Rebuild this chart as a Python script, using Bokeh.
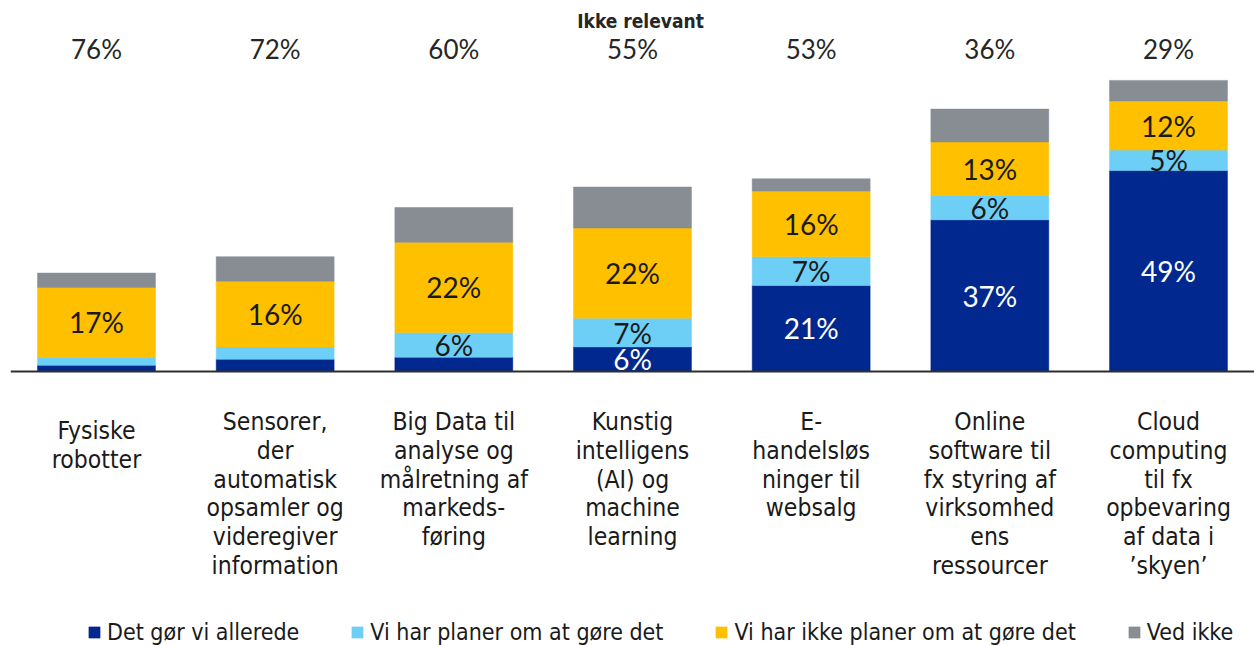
from bokeh.plotting import figure
from bokeh.models import ColumnDataSource, FactorRange, Span
from bokeh.core.properties import value
from bokeh.embed import file_html
from bokeh.resources import INLINE

# ---------------- data ----------------
categories = [
    "Fysiske\nrobotter",
    "Sensorer,\nder\nautomatisk\nopsamler og\nvideregiver\ninformation",
    "Big Data til\nanalyse og\nmålretning af\nmarkeds-\nføring",
    "Kunstig\nintelligens\n(AI) og\nmachine\nlearning",
    "E-\nhandelsløs\nninger til\nwebsalg",
    "Online\nsoftware til\nfx styring af\nvirksomhed\nens\nressourcer",
    "Cloud\ncomputing\ntil fx\nopbevaring\naf data i\n’skyen’",
]
series_names = [
    "Det gør vi allerede",
    "Vi har planer om at gøre det",
    "Vi har ikke planer om at gøre det",
    "Ved ikke",
]
already = [1.5, 3, 3.5, 6, 21, 37, 49]
planning = [2, 3, 6, 7, 7, 6, 5]
no_plans = [17, 16, 22, 22, 16, 13, 12]
dont_know = [3.5, 6, 8.5, 10, 3, 8, 5]
not_relevant = [76, 72, 60, 55, 53, 36, 29]
not_relevant_title = "Ikke relevant"

# ---------------- style ----------------
colors = ["#00288F", "#6DCFF6", "#FFC000", "#878D93"]
label_colors = ["#FFFFFF", "#1A1A1A", "#1A1A1A", None]
NUM_FONT = "Lato"
CAT_FONT = "DejaVu Sans Condensed, Liberation Sans Narrow, sans-serif"

W, H = 1254, 645
BORDER_L = 10
PX = 4.1          # pixels per percentage point
BASE = 371        # baseline position from top of figure (px)
y_end = BASE / PX
y_start = -(H - BASE) / PX

p = figure(
    width=W, height=H,
    x_range=FactorRange(*categories, range_padding=-0.00534),
    y_range=(y_start, y_end),
    output_backend="svg", toolbar_location=None,
    x_axis_location=None, y_axis_location=None,
    min_border_left=BORDER_L, min_border_right=0, min_border_top=0, min_border_bottom=0,
    outline_line_color=None, background_fill_color="white", border_fill_color="white",
)
p.grid.visible = False

keys = ["already", "planning", "no_plans", "dont_know"]
src = ColumnDataSource(dict(cat=categories, already=already, planning=planning,
                            no_plans=no_plans, dont_know=dont_know))
p.vbar_stack(keys, x="cat", width=0.66, color=colors, line_color=colors, line_width=0.5,
             source=src, legend_label=series_names)

# baseline
p.add_layout(Span(location=0, dimension="width", line_color="#2E2E2E", line_width=2))

# segment labels
series = [already, planning, no_plans, dont_know]
lx, ly, lt, lc = [], [], [], []
for i, c in enumerate(categories):
    bottom = 0
    for k, vals in enumerate(series):
        v = vals[i]
        if label_colors[k] is not None and v >= 5:
            lx.append(c)
            ly.append(bottom + v / 2)
            lt.append(f"{v:g}%")
            lc.append(label_colors[k])
        bottom += v
p.text(x="cat", y="y", text="t", text_color="c",
       source=ColumnDataSource(dict(cat=lx, y=ly, t=lt, c=lc)),
       text_align="center", text_baseline="middle",
       text_font=value(NUM_FONT), text_font_size="28px")

# "Ikke relevant" row
top_y = (BASE - 48) / PX
p.text(x=categories, y=[top_y] * len(categories), text=[f"{v}%" for v in not_relevant],
       text_align="center", text_baseline="middle", text_color="#262626",
       text_font=value(NUM_FONT), text_font_size="26px")
p.text(x=[categories[3]], y=[(BASE - 20) / PX], text=[not_relevant_title],
       x_offset=8, text_align="center", text_baseline="middle", text_color="#262626",
       text_font=value(CAT_FONT), text_font_size="19px", text_font_style="bold")

# category labels (multi-line, centred under each bar)
FIRST = 50
LINE = 28.8
cat_dy = [9, 0, 0, 0, 0, 0, 0]
cx, cy, ct = [], [], []
for i, c in enumerate(categories):
    for j, line in enumerate(c.split("\n")):
        cx.append(c)
        cy.append(-(FIRST + j * LINE + cat_dy[i]) / PX)
        ct.append(line)
p.text(x="cat", y="y", text="t", source=ColumnDataSource(dict(cat=cx, y=cy, t=ct)),
       text_align="center", text_baseline="middle", text_color="#1A1A1A",
       text_font=value(CAT_FONT), text_font_size="24.5px")

# legend
lg = p.legend[0]
lg.orientation = "horizontal"
lg.location = (77, 0)
lg.glyph_width = 14
lg.glyph_height = 14
lg.label_standoff = 6
lg.spacing = 51
lg.padding = 0
lg.margin = 0
lg.border_line_color = None
lg.background_fill_alpha = 0
lg.label_text_font = CAT_FONT
lg.label_text_font_size = "23px"
lg.label_text_color = "#1A1A1A"

open("out.html", "w").write(file_html(p, INLINE))
